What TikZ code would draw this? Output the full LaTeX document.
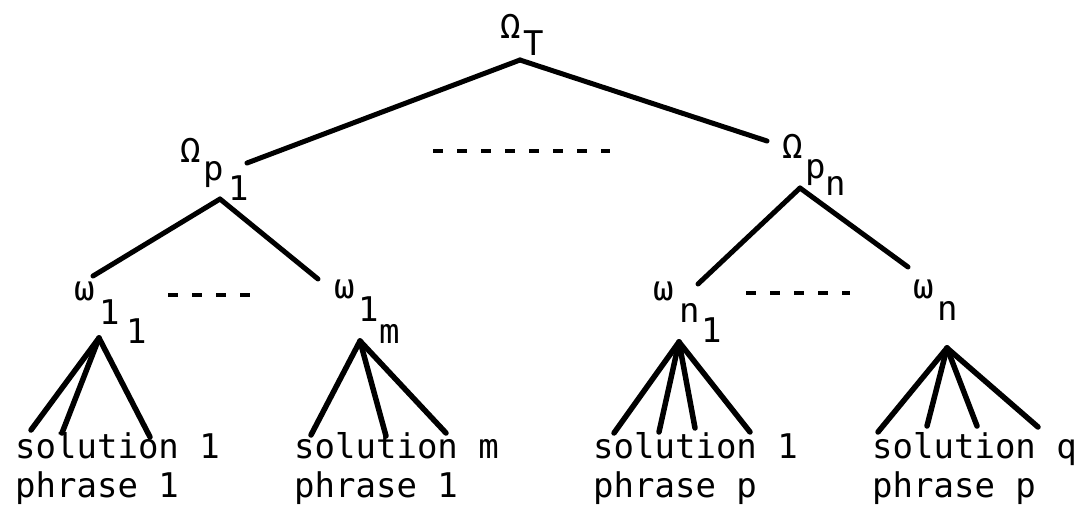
\documentclass[tikz,border=0pt]{standalone}
\usepackage{fontspec}
\setmonofont{DejaVu Sans Mono}
\begin{document}
\begin{tikzpicture}[x=1pt,y=-1pt,
  edge/.style={line width=5pt,line cap=round},
  fan/.style={line width=5.5pt,line cap=round},
  dotted line/.style={line width=4pt,dash pattern=on 10pt off 14pt},
  lab/.style={anchor=base west,inner sep=0pt,font=\ttfamily\fontsize{34}{40}\selectfont},
  txt/.style={anchor=base west,inner sep=0pt,font=\ttfamily\fontsize{34}{40}\selectfont}]
\useasboundingbox (0,0) rectangle (1078,504);

% root label
\node[lab] (rO) at (500,38) {Ω};
\node[lab] (rT) at (523,55) {T};
\coordinate (R) at (520,60);

% Omega p1
\node[lab] (aO) at (180,162) {Ω};
\node[lab] (aP) at (203,180) {p};
\node[lab] (aN) at (228,200) {1};
\coordinate (A) at (220,199);
\coordinate (Ain) at (247,163);

% Omega pn
\node[lab] (bO) at (782,158) {Ω};
\node[lab] (bP) at (805,178) {p};
\node[lab] (bN) at (825,195) {n};
\coordinate (B) at (800,188);
\coordinate (Bin) at (767,141);

\draw[edge] (R) -- (Ain);
\draw[edge] (R) -- (Bin);
\coordinate (d1a) at (433,151); \coordinate (d1b) at (610,151);
\draw[dotted line] (d1a) -- (d1b);

% omega 1 1
\node[lab] (cW) at (74,300) {ω};
\node[lab] (cA) at (99,324) {1};
\node[lab] (cB) at (126,343) {1};
\coordinate (C) at (99,338);
\coordinate (Cin) at (93,276);

% omega 1 m
\node[lab] (dW) at (334,298) {ω};
\node[lab] (dA) at (358,321) {1};
\node[lab] (dB) at (379,343) {m};
\coordinate (D) at (360,341);
\coordinate (Din) at (318,279);

\draw[edge] (A) -- (Cin);
\draw[edge] (A) -- (Din);
\coordinate (d2a) at (168,295); \coordinate (d2b) at (252,295);
\draw[dotted line] (d2a) -- (d2b);

% omega n 1
\node[lab] (eW) at (653,300) {ω};
\node[lab] (eA) at (679,322) {n};
\node[lab] (eB) at (701,342) {1};
\coordinate (E) at (679,342);
\coordinate (Ein) at (698,284);

% omega n
\node[lab] (fW) at (913,298) {ω};
\node[lab] (fA) at (937,320) {n};
\coordinate (F) at (947,348);
\coordinate (Fin) at (908,267);

\draw[edge] (B) -- (Ein);
\draw[edge] (B) -- (Fin);
\coordinate (d3a) at (746,293); \coordinate (d3b) at (850,293);
\draw[dotted line] (d3a) -- (d3b);

% fans
\coordinate (c1) at (31,430); \coordinate (c2) at (62,433); \coordinate (c3) at (150,437);
\draw[fan] (C) -- (c1); \draw[fan] (C) -- (c2); \draw[fan] (C) -- (c3);
\coordinate (e1) at (311,435); \coordinate (e2) at (386,436); \coordinate (e3) at (446,433);
\draw[fan] (D) -- (e1); \draw[fan] (D) -- (e2); \draw[fan] (D) -- (e3);
\coordinate (g1) at (614,433); \coordinate (g2) at (659,432); \coordinate (g3) at (695,428); \coordinate (g4) at (750,432);
\draw[fan] (E) -- (g1); \draw[fan] (E) -- (g2); \draw[fan] (E) -- (g3); \draw[fan] (E) -- (g4);
\coordinate (h1) at (878,432); \coordinate (h2) at (927,426); \coordinate (h3) at (977,426); \coordinate (h4) at (1038,427);
\draw[fan] (F) -- (h1); \draw[fan] (F) -- (h2); \draw[fan] (F) -- (h3); \draw[fan] (F) -- (h4);

% leaf texts
\node[txt] (s1) at (15,458) {solution 1};
\node[txt] (p1) at (15,497) {phrase 1};
\node[txt] (s2) at (294,458) {solution m};
\node[txt] (p2) at (294,497) {phrase 1};
\node[txt] (s3) at (593,458) {solution 1};
\node[txt] (p3) at (593,497) {phrase p};
\node[txt] (s4) at (872,458) {solution q};
\node[txt] (p4) at (872,497) {phrase p};
\end{tikzpicture}
\end{document}
